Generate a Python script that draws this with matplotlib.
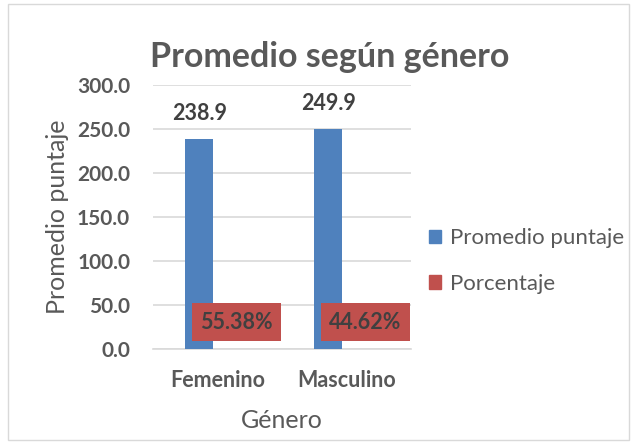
import numpy as np
import matplotlib.pyplot as plt
from matplotlib.patches import Rectangle, Patch

genero = ["Femenino", "Masculino"]
promedio = [238.9, 249.9]
porcentaje = [55.38, 44.62]
yticks = [0, 50, 100, 150, 200, 250, 300]

azul = "#4F81BD"
rojo = "#C0504D"
gris = "#595959"

plt.rcParams["font.family"] = ["Lato", "DejaVu Sans"]

W, H = 638, 444
fig = plt.figure(figsize=(W / 100, H / 100), dpi=100)

# borde del area del grafico
fig.patches.append(Rectangle((8 / W, 4 / H), 621 / W, 436 / H, transform=fig.transFigure,
                             fill=False, edgecolor="#D9D9D9", linewidth=1))

ax = fig.add_axes([153 / W, 95 / H, 258 / W, 264 / H])
x = np.arange(len(genero))
w = 0.217
off = 0.14

ax.bar(x - off, promedio, w, color=azul, zorder=3)
ax.bar(x + off, np.array(porcentaje) / 100, w, color=rojo, zorder=3)

for xi, v in zip(x, promedio):
    ax.annotate(f"{v:.1f}", (xi - off, v), xytext=(0, 18.5), textcoords="offset points",
                ha="center", va="center", fontsize=15.5, fontweight="bold", color="#404040")

# etiquetas de porcentaje con fondo rojo (base interior)
for xi, p in zip(x, porcentaje):
    cx = xi + off + 0.007
    ax.add_patch(Rectangle((cx - 0.345, 9), 0.69, 43, facecolor=rojo, edgecolor="none",
                           zorder=4))
    ax.text(cx, 30.5, f"{p:.2f}%", ha="center", va="center", fontsize=15.5,
            fontweight="bold", color="#404040", zorder=5)

ax.set_xlim(-0.5, 1.5)
ax.set_ylim(0, 300)
ax.set_yticks(yticks)
ax.set_yticklabels([f"{t:.1f}" for t in yticks])
ax.set_xticks(x)
ax.set_xticklabels(genero)
ax.tick_params(length=0, labelcolor=gris)
ax.tick_params(axis="y", pad=16.5, labelsize=15)
ax.tick_params(axis="x", pad=15, labelsize=15.5)
for lab in ax.get_xticklabels() + ax.get_yticklabels():
    lab.set_fontweight("bold")
ax.grid(axis="y", color="#D9D9D9", linewidth=1.2, zorder=0)
for s in ["top", "right", "left"]:
    ax.spines[s].set_visible(False)
ax.spines["bottom"].set_color("#D9D9D9")
ax.spines["bottom"].set_linewidth(1.2)

ax.set_ylabel("Promedio puntaje", fontsize=18, color=gris, labelpad=6)
ax.set_xlabel("Género", fontsize=18, color=gris, labelpad=13)

fig.text(329.5 / W, 1 - 67 / H, "Promedio según género", ha="center", va="baseline",
         fontsize=24.5, fontweight="bold", color=gris)

handles = [Patch(color=azul), Patch(color=rojo)]
fig.legend(handles, ["Promedio puntaje", "Porcentaje"], loc="center left",
           bbox_to_anchor=(409 / W, 1 - 261 / H), frameon=False, fontsize=16,
           labelcolor=gris, handlelength=0.55, handleheight=0.55, handletextpad=0.4,
           labelspacing=1.15)

fig.savefig("out.png", dpi=100)
